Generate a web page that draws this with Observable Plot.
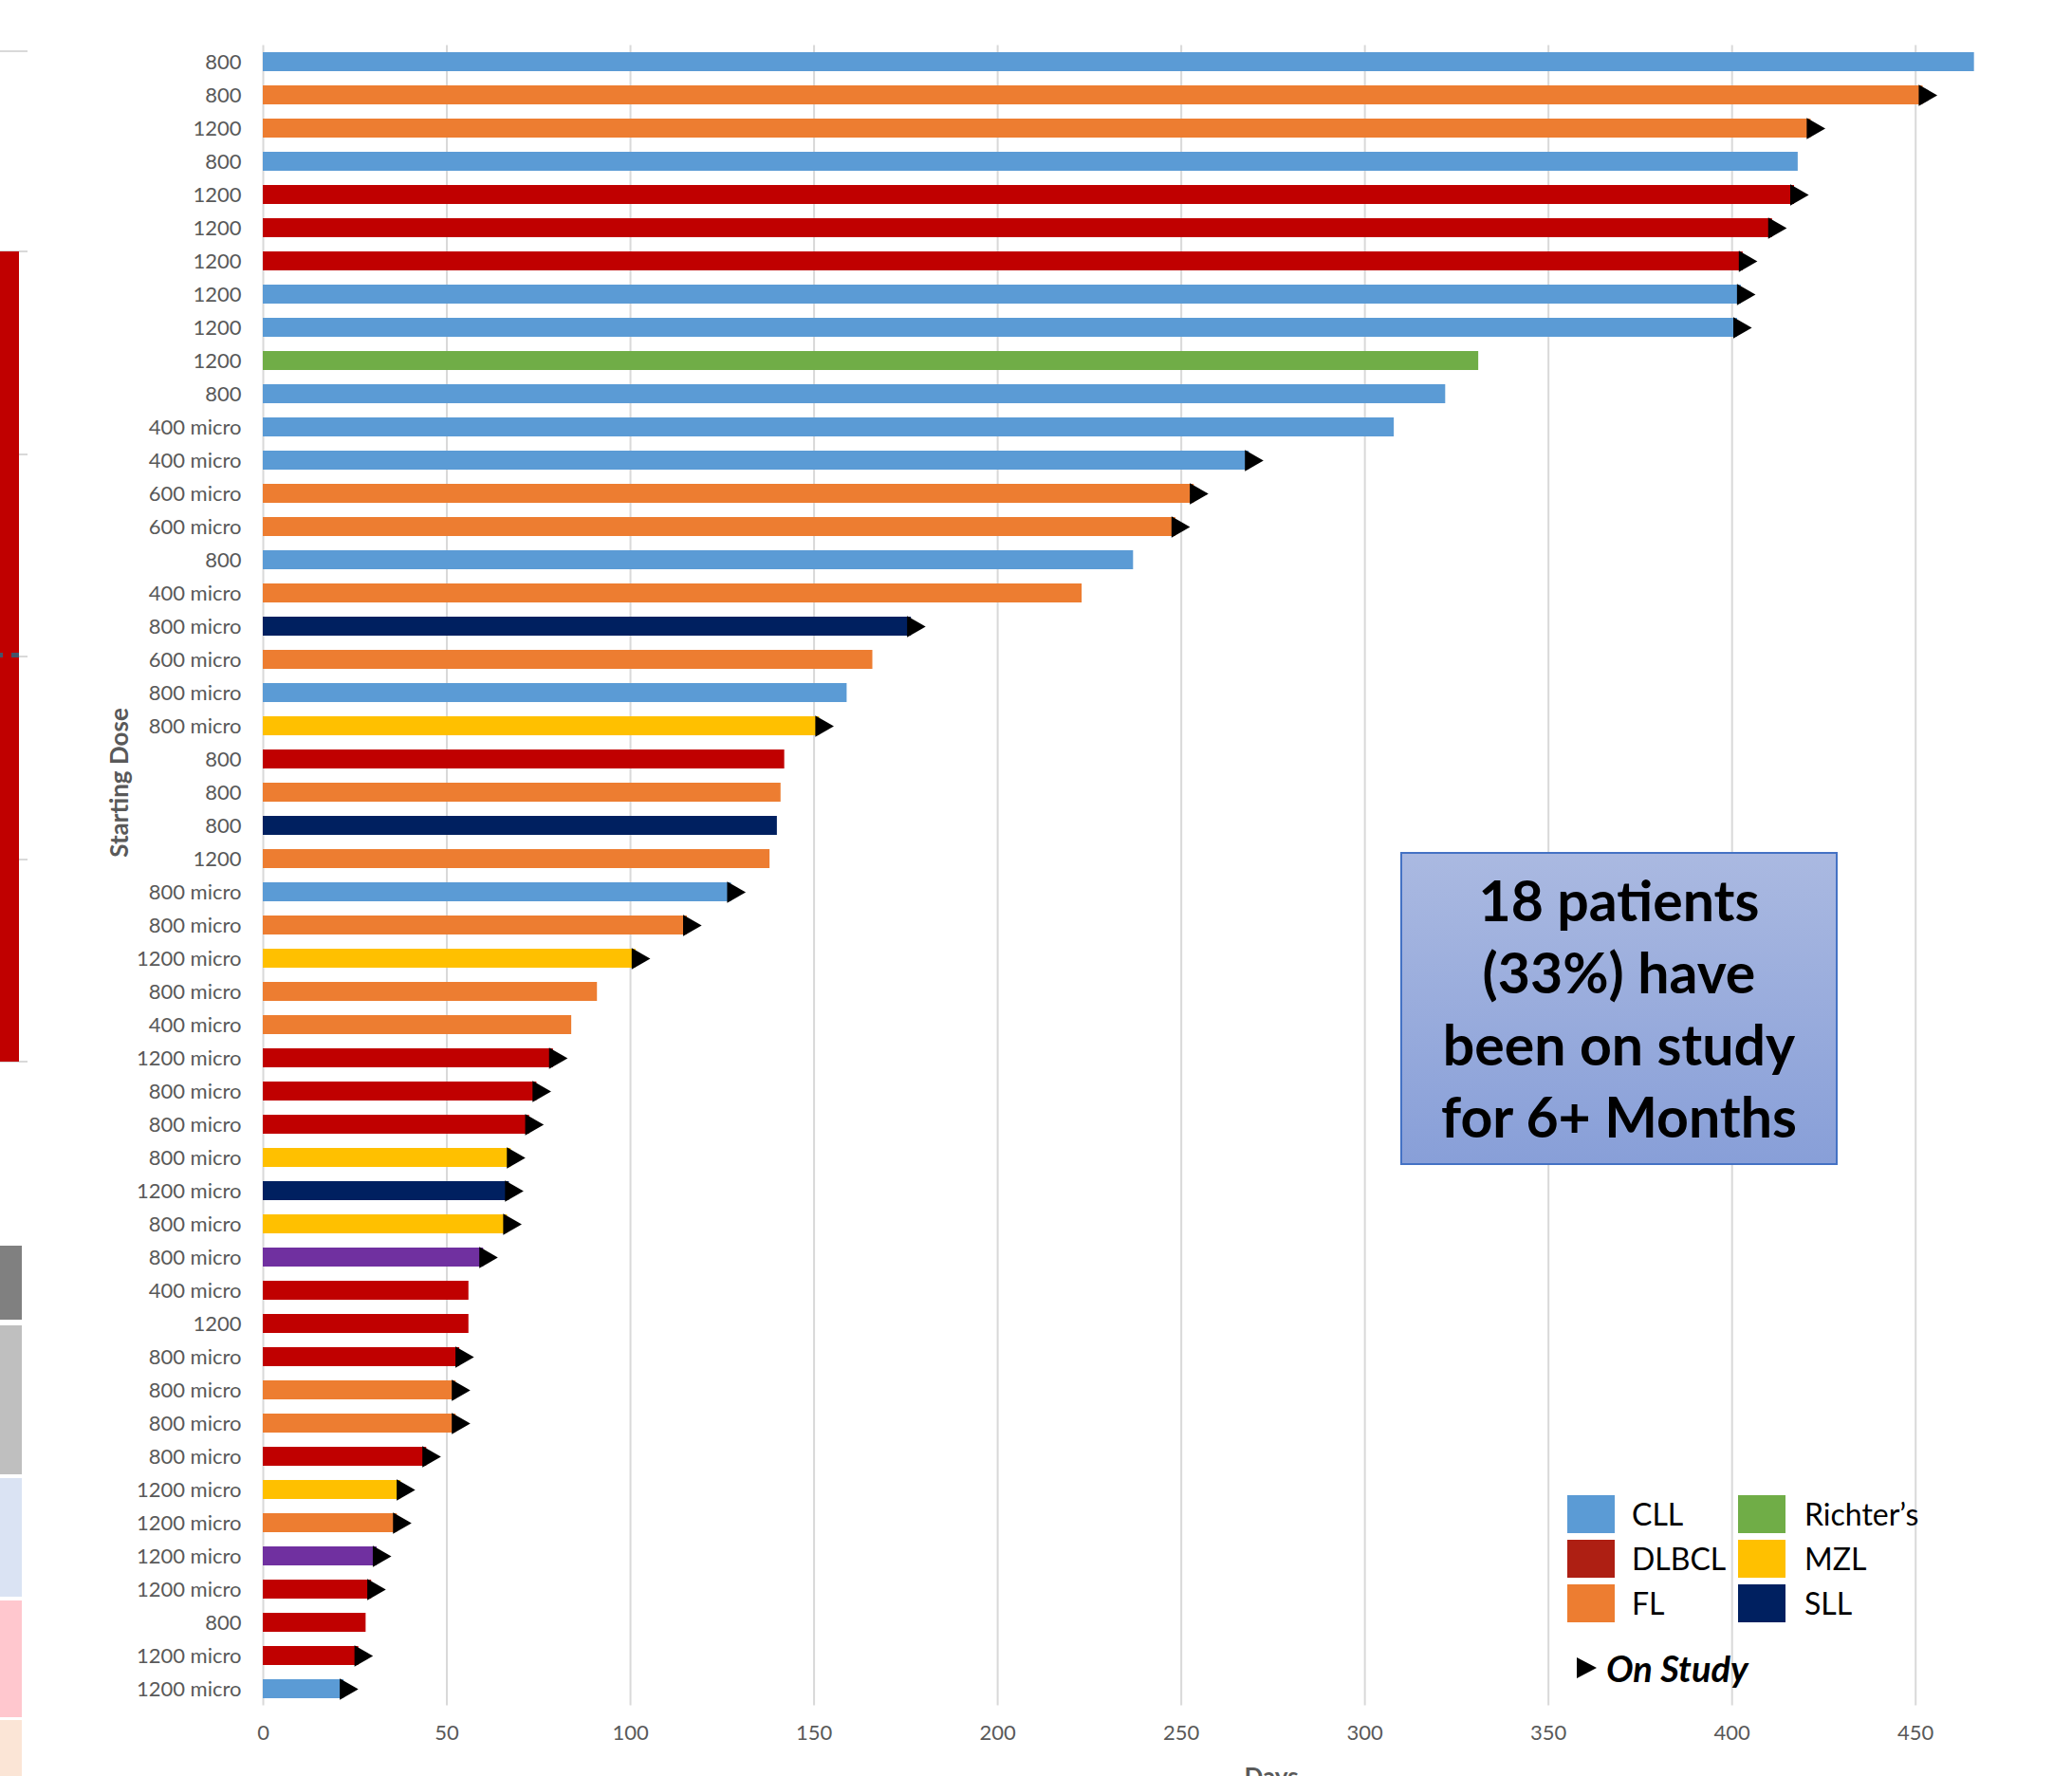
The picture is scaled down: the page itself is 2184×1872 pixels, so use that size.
<!DOCTYPE html>
<html>
<head>
<meta charset="utf-8">
<script src="https://cdn.jsdelivr.net/npm/d3@7"></script>
<script src="https://cdn.jsdelivr.net/npm/@observablehq/plot@0.6"></script>
<style>
  html, body { margin: 0; padding: 0; background: #ffffff; overflow: hidden; }
  #wrap { position: relative; width: 2184px; height: 1872px; font-family: Lato, "Open Sans", sans-serif; overflow: hidden; }
  #wrap svg { position: absolute; left: 0; top: 0; }
  .abs { position: absolute; }
  .ytitle { position: absolute; left: 125px; top: 825px; transform: translate(-50%, -50%) rotate(-90deg);
            font: bold 26px Lato, sans-serif; color: #595959; white-space: nowrap; }
  .xtitle { position: absolute; left: 1340px; top: 1859px; transform: translateX(-50%);
            font: bold 26px/1 Lato, sans-serif; color: #595959; white-space: nowrap; }
  .note { position: absolute; left: 1476px; top: 898px; width: 461px; height: 330px; box-sizing: border-box;
          border: 2px solid #4472C4; background: linear-gradient(#AAB9E1, #889FD8);
          display: flex; align-items: center; justify-content: center; text-align: center;
          font: bold 59px/76px Lato, sans-serif; color: #000; }
  .lg-sw { position: absolute; width: 50px; height: 40px; }
  .lg-tx { position: absolute; font: 32px/40px Lato, sans-serif; color: #000; white-space: nowrap; }
  .onstudy { position: absolute; left: 1662px; top: 1736px; display: flex; align-items: center; }
  .onstudy .tri { width: 0; height: 0; border-left: 21px solid #000; border-top: 11px solid transparent; border-bottom: 11px solid transparent; }
  .onstudy span { margin-left: 10px; font: italic bold 38px/44px Lato, sans-serif; color: #000; }
</style>
</head>
<body>
<div id="wrap"></div>
<script>
// ---- data (top to bottom) ----
const doses = ["800","800","1200","800","1200","1200","1200","1200","1200","1200",
  "800","400 micro","400 micro","600 micro","600 micro","800","400 micro","800 micro","600 micro","800 micro",
  "800 micro","800","800","800","1200","800 micro","800 micro","1200 micro","800 micro","400 micro",
  "1200 micro","800 micro","800 micro","800 micro","1200 micro","800 micro","800 micro","400 micro","1200","800 micro",
  "800 micro","800 micro","800 micro","1200 micro","1200 micro","1200 micro","1200 micro","800","1200 micro","1200 micro"];
const diseases = ["CLL","FL","FL","CLL","DLBCL","DLBCL","DLBCL","CLL","CLL","Richter’s",
  "CLL","CLL","CLL","FL","FL","CLL","FL","SLL","FL","CLL",
  "MZL","DLBCL","FL","SLL","FL","CLL","FL","MZL","FL","FL",
  "DLBCL","DLBCL","DLBCL","MZL","SLL","MZL","Other","DLBCL","DLBCL","DLBCL",
  "FL","FL","DLBCL","MZL","FL","Other","DLBCL","DLBCL","DLBCL","CLL"];
const days = [466,452,421.5,418,417,411,403,402.5,401.5,331,
  322,308,268.5,253.5,248.5,237,223,176.5,166,159,
  151.5,142,141,140,138,127.5,115.5,101.5,91,84,
  79,74.5,72.5,67.5,67,66.5,60,56,56,53.5,
  52.5,52.5,44.5,37.5,36.5,31,29.5,28,26,22];
const onStudy = [false,true,true,false,true,true,true,true,true,false,
  false,false,true,true,true,false,false,true,false,false,
  true,false,false,false,false,true,true,true,false,false,
  true,true,true,true,true,true,true,false,false,true,
  true,true,true,true,true,true,true,false,true,true];
const categories = ["CLL","DLBCL","FL","Richter’s","MZL","SLL","Other"];
const colors = ["#5B9BD5","#C00000","#ED7D31","#70AD47","#FFC000","#002060","#7030A0"];
const legendItems = ["CLL","DLBCL","FL","Richter’s","MZL","SLL"];
const legendSwatches = ["#5B9BD5","#AE1F13","#ED7D31","#70AD47","#FFC000","#002060"];
const xTicks = [0,50,100,150,200,250,300,350,400,450];
const noteLines = ["18 patients","(33%) have","been on study","for 6+ Months"];

const rows = days.map((d, i) => ({i, dose: doses[i], disease: diseases[i], days: d, on: onStudy[i]}));

const plot = Plot.plot({
  width: 2184,
  height: 1872,
  marginLeft: 277,
  marginRight: 0,
  marginTop: 47.5,
  marginBottom: 74.5,
  style: {fontFamily: "Lato, sans-serif", fontSize: "22px", color: "#595959", background: "transparent", overflow: "visible"},
  x: {domain: [0, 492.7], label: null},
  y: {type: "band", domain: d3.range(rows.length), paddingInner: 15 / 35, paddingOuter: 7.5 / 35, label: null},
  color: {domain: categories, range: colors},
  marks: [
    Plot.gridX(xTicks, {stroke: "#D9D9D9", strokeWidth: 2, strokeOpacity: 1}),
    Plot.barX(rows, {x: "days", y: "i", fill: "disease"}),
    Plot.dot(rows.filter(d => d.on), {x: "days", y: "i", symbol: "triangle", rotate: 90, r: 8.4, fill: "#000", stroke: "none", dx: 2}),
    Plot.axisX(xTicks, {tickSize: 0, tickPadding: 20, label: null}),
    Plot.axisY({tickSize: 0, tickPadding: 23, tickFormat: i => doses[i], label: null})
  ]
});

const wrap = document.getElementById("wrap");

// edge of a neighbouring slide visible at the left of the picture
const edge = [
  ["abs", 0, 53, 29, 2, "#D9D9D9"], ["abs", 0, 264, 29, 2, "#D9D9D9"], ["abs", 0, 478, 29, 2, "#D9D9D9"],
  ["abs", 0, 691, 29, 2, "#D9D9D9"], ["abs", 0, 905, 29, 2, "#D9D9D9"], ["abs", 0, 1118, 29, 2, "#D9D9D9"],
  ["abs", 0, 265, 20, 854, "#C00000"], ["abs", 0, 688, 3, 5, "#44546A"], ["abs", 12, 688, 8, 5, "#44546A"],
  ["abs", 0, 1313, 23, 78, "#808080"], ["abs", 0, 1397, 23, 157, "#BFBFBF"], ["abs", 0, 1558, 23, 125, "#DAE3F3"],
  ["abs", 0, 1687, 23, 123, "#FFC7CE"], ["abs", 0, 1813, 23, 60, "#FBE5D6"]
];
for (const [c, l, t, w, h, bg] of edge) {
  const d = document.createElement("div");
  d.className = c;
  Object.assign(d.style, {left: l + "px", top: t + "px", width: w + "px", height: h + "px", background: bg});
  wrap.appendChild(d);
}

wrap.appendChild(plot);

const yt = document.createElement("div");
yt.className = "ytitle"; yt.textContent = "Starting Dose";
wrap.appendChild(yt);

const xt = document.createElement("div");
xt.className = "xtitle"; xt.textContent = "Days";
wrap.appendChild(xt);

const note = document.createElement("div");
note.className = "note";
note.innerHTML = noteLines.join("<br>");
wrap.appendChild(note);

// legend
legendItems.forEach((name, k) => {
  const col = Math.floor(k / 3), row = k % 3;
  const sx = col === 0 ? 1652 : 1832;
  const tx = col === 0 ? 1720 : 1902;
  const top = 1576 + row * 47;
  const sw = document.createElement("div");
  sw.className = "lg-sw";
  Object.assign(sw.style, {left: sx + "px", top: top + "px", background: legendSwatches[k]});
  wrap.appendChild(sw);
  const tx1 = document.createElement("div");
  tx1.className = "lg-tx";
  Object.assign(tx1.style, {left: tx + "px", top: top + "px"});
  tx1.textContent = name;
  wrap.appendChild(tx1);
});
const os = document.createElement("div");
os.className = "onstudy";
os.innerHTML = '<div class="tri"></div><span>On Study</span>';
wrap.appendChild(os);
</script>
</body>
</html>
